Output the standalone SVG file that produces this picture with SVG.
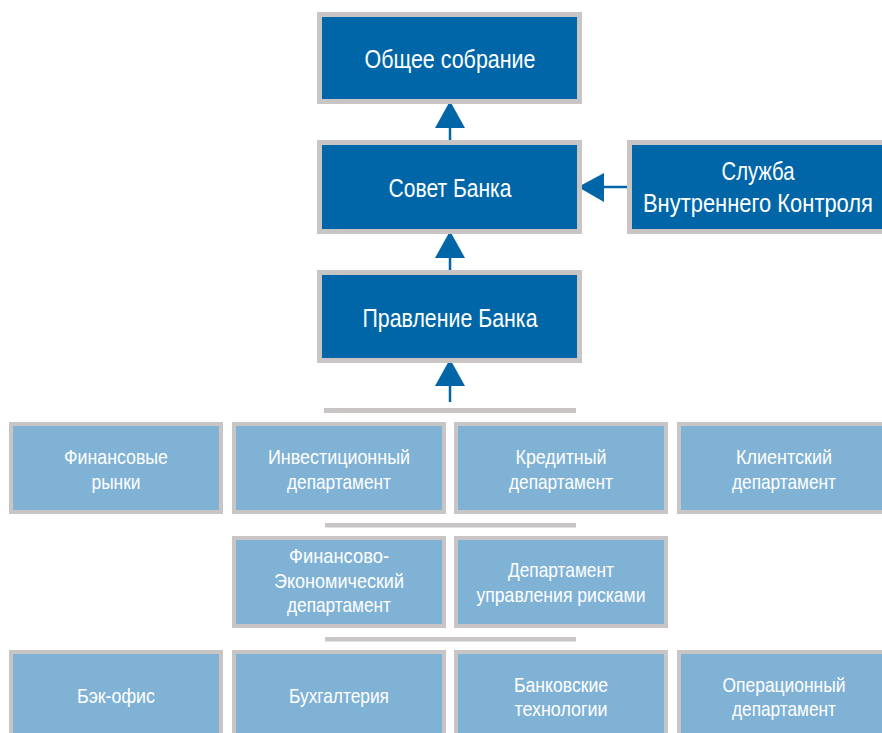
<svg xmlns="http://www.w3.org/2000/svg" width="882" height="733" viewBox="0 0 882 733">
<style>
.dark{fill:#0066A8;stroke:#C9C5C5;stroke-width:5}
.light{fill:#7FB2D5;stroke:#C9C5C5;stroke-width:4}
.sep{fill:#C9C5C5}
.tb{font-family:"Liberation Sans",Arial,sans-serif;font-size:26px;fill:#FFFFFF;text-anchor:middle}
.ts{font-family:"Liberation Sans",Arial,sans-serif;font-size:21px;fill:#FFFFFF;text-anchor:middle}
.ln{stroke:#0066A8;stroke-width:2.5;fill:none}
.ah{fill:#0066A8}
</style>
<rect width="882" height="733" fill="#FFFFFF"/>
<g id="connectors">
<line class="ln" x1="450" y1="126" x2="450" y2="141"/>
<polygon class="ah" points="450,101 435,128 465,128"/>
<line class="ln" x1="450" y1="256" x2="450" y2="271"/>
<polygon class="ah" points="450,231 435,258 465,258"/>
<line class="ln" x1="450" y1="384" x2="450" y2="402"/>
<polygon class="ah" points="450,359 435,386 465,386"/>
<line class="ln" x1="602" y1="187" x2="628" y2="187"/>
<polygon class="ah" points="578,187 604,173 604,202"/>
<rect class="sep" x="324" y="408" width="252" height="5"/>
<rect class="sep" x="325" y="523" width="251" height="4.5"/>
<rect class="sep" x="325" y="637" width="251" height="4.5"/>
</g>
<g id="n-obshee">
<rect class="dark" x="319.5" y="14.5" width="260" height="87"/>
<text class="tb" x="450" y="68" textLength="171" lengthAdjust="spacingAndGlyphs">Общее собрание</text>
</g>
<g id="n-sovet">
<rect class="dark" x="319.5" y="142.5" width="260" height="89"/>
<text class="tb" x="450" y="197" textLength="123" lengthAdjust="spacingAndGlyphs">Совет Банка</text>
</g>
<g id="n-pravlenie">
<rect class="dark" x="319.5" y="272.5" width="260" height="88"/>
<text class="tb" x="450" y="327" textLength="175" lengthAdjust="spacingAndGlyphs">Правление Банка</text>
</g>
<g id="n-sluzhba">
<rect class="dark" x="629.5" y="142.5" width="259" height="89"/>
<text class="tb" x="758" y="180" textLength="73" lengthAdjust="spacingAndGlyphs">Служба</text>
<text class="tb" x="758" y="212" textLength="230" lengthAdjust="spacingAndGlyphs">Внутреннего Контроля</text>
</g>
<g id="n-finrynki">
<rect class="light" x="11" y="424" width="210" height="88"/>
<text class="ts" x="116" y="464" textLength="104" lengthAdjust="spacingAndGlyphs">Финансовые</text>
<text class="ts" x="116" y="489" textLength="49" lengthAdjust="spacingAndGlyphs">рынки</text>
</g>
<g id="n-invest">
<rect class="light" x="234" y="424" width="210" height="88"/>
<text class="ts" x="339" y="464" textLength="142" lengthAdjust="spacingAndGlyphs">Инвестиционный</text>
<text class="ts" x="339" y="489" textLength="104" lengthAdjust="spacingAndGlyphs">департамент</text>
</g>
<g id="n-kredit">
<rect class="light" x="456" y="424" width="210" height="88"/>
<text class="ts" x="561" y="464" textLength="91" lengthAdjust="spacingAndGlyphs">Кредитный</text>
<text class="ts" x="561" y="489" textLength="104" lengthAdjust="spacingAndGlyphs">департамент</text>
</g>
<g id="n-client">
<rect class="light" x="679" y="424" width="210" height="88"/>
<text class="ts" x="784" y="464" textLength="96" lengthAdjust="spacingAndGlyphs">Клиентский</text>
<text class="ts" x="784" y="489" textLength="104" lengthAdjust="spacingAndGlyphs">департамент</text>
</g>
<g id="n-fined">
<rect class="light" x="234" y="538" width="210" height="88"/>
<text class="ts" x="339" y="563" textLength="100" lengthAdjust="spacingAndGlyphs">Финансово-</text>
<text class="ts" x="339" y="588" textLength="130" lengthAdjust="spacingAndGlyphs">Экономический</text>
<text class="ts" x="339" y="612" textLength="104" lengthAdjust="spacingAndGlyphs">департамент</text>
</g>
<g id="n-risk">
<rect class="light" x="456" y="538" width="210" height="88"/>
<text class="ts" x="561" y="577" textLength="106" lengthAdjust="spacingAndGlyphs">Департамент</text>
<text class="ts" x="561" y="602" textLength="169" lengthAdjust="spacingAndGlyphs">управления рисками</text>
</g>
<g id="n-back">
<rect class="light" x="11" y="652" width="210" height="89"/>
<text class="ts" x="116" y="703" textLength="78" lengthAdjust="spacingAndGlyphs">Бэк-офис</text>
</g>
<g id="n-buh">
<rect class="light" x="234" y="652" width="210" height="89"/>
<text class="ts" x="339" y="703" textLength="100" lengthAdjust="spacingAndGlyphs">Бухгалтерия</text>
</g>
<g id="n-bank">
<rect class="light" x="456" y="652" width="210" height="89"/>
<text class="ts" x="561" y="692" textLength="94" lengthAdjust="spacingAndGlyphs">Банковские</text>
<text class="ts" x="561" y="716" textLength="93" lengthAdjust="spacingAndGlyphs">технологии</text>
</g>
<g id="n-oper">
<rect class="light" x="679" y="652" width="210" height="89"/>
<text class="ts" x="784" y="692" textLength="123" lengthAdjust="spacingAndGlyphs">Операционный</text>
<text class="ts" x="784" y="716" textLength="104" lengthAdjust="spacingAndGlyphs">департамент</text>
</g>
</svg>
